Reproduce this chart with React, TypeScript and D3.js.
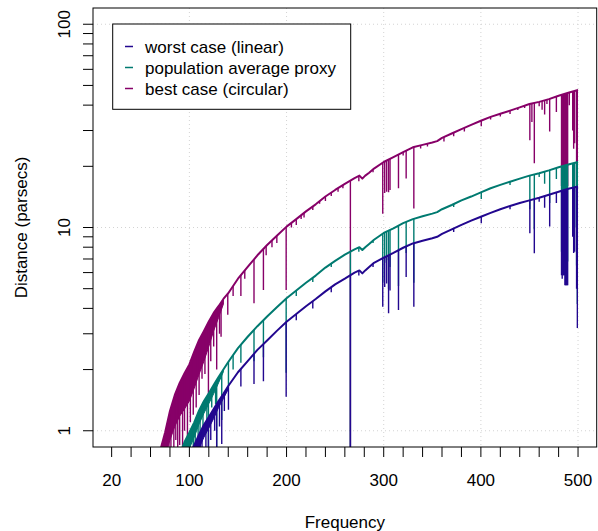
import React from "react";
import * as d3 from "d3";

// ---------- data ----------
const FREQ = [65, 70, 75, 80, 85, 90, 95, 100, 105, 110, 115, 120, 125, 130, 135, 140, 150, 160, 170, 180, 190, 200, 210, 220, 230, 240, 250, 260, 270, 275, 278, 281, 285, 290, 300, 310, 320, 330, 340, 350, 355, 360, 370, 380, 390, 400, 410, 420, 430, 440, 450, 460, 470, 480, 490, 500];

const BEST = [0.6, 0.8, 0.98, 1.25, 1.5, 1.72, 1.92, 2.12, 2.45, 2.8, 3.1, 3.45, 3.8, 4.1, 4.45, 4.75, 5.6, 6.4, 7.3, 8.2, 9.1, 10.1, 11.0, 12.0, 13.0, 14.2, 15.3, 16.4, 17.5, 18.0, 17.4, 18.0, 18.6, 19.5, 21.0, 22.2, 23.5, 24.8, 25.5, 26.2, 26.6, 27.6, 29.0, 30.5, 32.0, 33.5, 35.0, 36.3, 37.6, 39.0, 40.5, 41.5, 42.8, 44.5, 46.0, 47.5];

const POP = [null, null, null, null, null, 0.76, 0.88, 0.98, 1.1, 1.26, 1.4, 1.53, 1.68, 1.84, 2.0, 2.18, 2.55, 2.9, 3.27, 3.65, 4.05, 4.49, 4.9, 5.35, 5.8, 6.35, 6.85, 7.35, 7.8, 8.0, 7.75, 8.0, 8.3, 8.7, 9.4, 9.9, 10.5, 11.0, 11.35, 11.7, 11.9, 12.3, 12.9, 13.6, 14.2, 14.9, 15.6, 16.2, 16.8, 17.4, 18.0, 18.5, 19.1, 19.8, 20.4, 21.0];

const WORST = [null, null, null, null, null, null, null, 0.75, 0.85, 0.96, 1.07, 1.17, 1.28, 1.4, 1.52, 1.66, 1.94, 2.2, 2.5, 2.78, 3.1, 3.44, 3.75, 4.1, 4.45, 4.85, 5.25, 5.6, 6.0, 6.15, 5.95, 6.15, 6.4, 6.7, 7.1, 7.5, 7.95, 8.35, 8.6, 8.85, 9.0, 9.3, 9.8, 10.3, 10.8, 11.3, 11.8, 12.3, 12.75, 13.2, 13.6, 14.0, 14.5, 15.0, 15.5, 15.9];

// lower edge of the dense low-frequency band
const BEST_LOW = [0.5, 0.6, 0.75, 0.9, 1.05, 1.18, 1.28, 1.4, 1.62, 1.9, 2.2, 2.6, 3.1, 3.6, 4.2, null, null, null, null, null, null, null, null, null, null, null, null, null, null, null, null, null, null, null, null, null, null, null, null, null, null, null, null, null, null, null, null, null, null, null, null, null, null, null, null, null];
const POP_LOW = [null, null, null, null, null, 0.6, 0.72, 0.82, 0.93, 1.08, 1.22, 1.36, 1.52, 1.72, 1.95, null, null, null, null, null, null, null, null, null, null, null, null, null, null, null, null, null, null, null, null, null, null, null, null, null, null, null, null, null, null, null, null, null, null, null, null, null, null, null, null, null];
const WORST_LOW = [null, null, null, null, null, null, null, 0.6, 0.7, 0.82, 0.93, 1.03, 1.15, 1.3, 1.44, 1.6, null, null, null, null, null, null, null, null, null, null, null, null, null, null, null, null, null, null, null, null, null, null, null, null, null, null, null, null, null, null, null, null, null, null, null, null, null, null, null, null];

// spectral lines: [frequency, minimum value]
const BEST_SPIKES: [number, number][] = [
  [72, 0.5], [74, 0.5], [77, 0.6], [79, 0.5], [81, 0.8], [84, 0.7], [86, 0.9], [88, 0.6], [90, 0.85], [93, 0.8], [95, 1.0], [98, 0.9],
  [101, 1.1], [104, 1.2], [107, 1.3], [110, 1.5], [113, 1.8], [116, 1.9], [122, 2.2], [125, 2.6], [131, 3.0],
  [119.6, 1.5], [128.1, 2.0], [132.6, 2.9], [139.5, 3.72], [145, 4.6], [153, 4.6], [157, 5.6], [166.5, 4.24], [176.2, 4.93], [179, 7.3],
  [185, 8.0], [190, 8.4], [199.6, 4.93], [205, 10.0], [210, 10.3], [215, 11.0], [218, 11.2], [227, 12.2], [234, 13.1], [240, 13.5],
  [246, 14.3], [253, 15.0], [258, 15.6], [265.7, 0.5], [274.4, 16.9], [289, 18.7],
  [299, 11.7], [301, 14.8], [303, 15.0], [305, 14.9], [306.5, 15.3], [315.2, 15.6], [320, 22.6], [323.1, 17.4], [331, 12.4],
  [338, 24.5], [345, 25.0], [362, 26.5], [372, 28.1], [383, 29.7], [400.4, 31.5], [410, 34.0], [420, 35.2], [430, 36.2], [438, 37.8],
  [445, 38.7], [450.4, 26.9], [452.5, 33], [455, 20.7], [460, 39.5], [463, 38.0], [465.6, 36], [468, 40.5], [470.8, 29.7], [477.7, 37],
  [483, 16], [483.7, 16], [484.4, 16], [485.1, 16], [485.8, 16], [486.5, 16], [487.2, 16], [487.9, 16], [488.6, 16], [489.3, 16],
  [491, 40], [494.5, 30], [495.5, 24.4], [496.5, 26], [498.5, 15], [499.3, 8],
];
const POP_SPIKES: [number, number][] = [
  [96, 0.6], [99, 0.7], [101, 0.6], [104, 0.75], [106, 0.65], [109, 0.85], [111, 0.75], [114, 1.0], [118, 1.1], [123, 1.3], [127, 1.35],
  [119.6, 0.65], [128.1, 0.66], [133.3, 1.13], [140.2, 1.66], [145, 2.0], [153, 2.16], [166.5, 2.2], [176.2, 2.3], [199.6, 1.93],
  [210, 4.6], [227, 5.4], [246, 6.4], [265.7, 0.4], [274.4, 7.6], [289, 8.4],
  [299, 5.35], [301, 6.7], [303, 6.9], [305, 5.0], [306.5, 6.4], [315.2, 5.15], [323.1, 7.5], [331, 5.35], [372, 12.6], [400.4, 13.8],
  [430, 16.2], [450.4, 12.3], [455, 9.8], [460, 17.7], [465.6, 16.4], [470.8, 13.2], [477.7, 17.3],
  [483, 7.6], [483.7, 7.3], [484.4, 7.6], [485.1, 7.6], [485.8, 7.6], [486.5, 6.8], [487.2, 6.8], [487.9, 6.8], [488.6, 6.8], [489.3, 6.8],
  [494.5, 11.8], [495.5, 9.8], [496.5, 10], [498.5, 6.5], [499.3, 4.2],
];
const WORST_SPIKES: [number, number][] = [
  [108, 0.6], [111, 0.7], [113, 0.65], [117, 0.8], [122, 0.9], [126, 1.0], [131, 1.05], [136, 1.25],
  [119.6, 0.5], [128.1, 0.5], [133.3, 0.86], [140.2, 1.27], [153, 1.65], [166.5, 1.7], [176.2, 1.75], [199.6, 1.47],
  [210, 3.5], [227, 4.0], [246, 4.8], [265.7, 0.3], [274.4, 5.8], [289, 6.4],
  [299, 4.08], [301, 5.1], [303, 5.3], [305, 3.79], [306.5, 4.9], [315.2, 3.93], [323.1, 5.7], [331, 4.08], [372, 9.5], [400.4, 10.5],
  [430, 12.3], [450.4, 9.37], [455, 7.47], [460, 13.4], [465.6, 12.5], [470.8, 10.1], [477.7, 13.2],
  [483, 5.83], [483.7, 5.6], [484.4, 5.83], [485.1, 5.83], [485.8, 5.83], [486.5, 5.2], [487.2, 5.2], [487.9, 5.2], [488.6, 5.2], [489.3, 5.2],
  [494.5, 9], [495.5, 7.5], [496.5, 7.6], [498.5, 5], [499.3, 3.2],
];

const X_MINOR_TICKS = [20, 40, 60, 80, 100, 120, 140, 160, 180, 200, 220, 240, 260, 280, 300, 320, 340, 360, 380, 400, 420, 440, 460, 480, 500];
const X_LABELS = [20, 100, 200, 300, 400, 500];
const X_GRID = [100, 200, 300, 400, 500];
const Y_MINOR_TICKS = [1, 2, 3, 4, 5, 6, 7, 8, 9, 10, 20, 30, 40, 50, 60, 70, 80, 90, 100];
const Y_LABELS = [1, 10, 100];

const SERIES_NAMES = ["worst case (linear)", "population average proxy", "best case (circular)"];
const COLORS = ["#22078f", "#007a70", "#870068"];

// ---------- layout ----------
const W = 598;
const H = 531;
const L = 93, R = 596.7, T = 8, B = 447;
const FONT = "'Liberation Sans', Arial, Helvetica, sans-serif";

export default function App() {
  const x = d3.scaleLinear().domain([0.8, 519.2]).range([L, R]);
  const y = d3.scaleLog().domain([Math.pow(10, -0.0799), Math.pow(10, 2.0799)]).range([B, T]);

  const series = [
    { key: "best", vals: BEST, low: BEST_LOW, spikes: BEST_SPIKES, color: COLORS[2] },
    { key: "pop", vals: POP, low: POP_LOW, spikes: POP_SPIKES, color: COLORS[1] },
    { key: "worst", vals: WORST, low: WORST_LOW, spikes: WORST_SPIKES, color: COLORS[0] },
  ];

  const idx = FREQ.map((_, i) => i);

  return (
    <svg width={W} height={H} style={{ position: "absolute", left: 0, top: 0, background: "#fff" }} fontFamily={FONT}>
      <defs>
        <clipPath id="plotclip">
          <rect x={L} y={T} width={R - L} height={B - T} />
        </clipPath>
        {series.map((s) => {
          const under = d3
            .area<number>()
            .defined((i) => s.vals[i] != null)
            .x((i) => x(FREQ[i]))
            .y0(B + 60)
            .y1((i) => y(s.vals[i] as number));
          return (
            <clipPath id={`under-${s.key}`} key={s.key}>
              <path d={under(idx) || ""} />
            </clipPath>
          );
        })}
      </defs>

      {/* grid */}
      <g stroke="#d3d3d3" strokeWidth={1} strokeDasharray="1,3">
        {X_GRID.map((v) => (
          <line key={"gx" + v} x1={x(v)} x2={x(v)} y1={T} y2={B} />
        ))}
        {Y_LABELS.map((v) => (
          <line key={"gy" + v} x1={L} x2={R} y1={y(v)} y2={y(v)} />
        ))}
      </g>

      {/* series */}
      <g clipPath="url(#plotclip)">
        {series.map((s) => {
          const band = d3
            .area<number>()
            .defined((i) => s.low[i] != null && s.vals[i] != null)
            .x((i) => x(FREQ[i]))
            .y0((i) => y(s.low[i] as number))
            .y1((i) => y(s.vals[i] as number));
          const line = d3
            .line<number>()
            .defined((i) => s.vals[i] != null)
            .x((i) => x(FREQ[i]))
            .y((i) => y(s.vals[i] as number));
          return (
            <g key={s.key}>
              <g clipPath={`url(#under-${s.key})`}>
                <path d={band(idx) || ""} fill={s.color} stroke={s.color} strokeWidth={1} />
                {s.spikes.map(([f, v], k) => (
                  <line key={k} x1={x(f)} x2={x(f)} y1={y(v)} y2={T} stroke={s.color} strokeWidth={1.4} />
                ))}
              </g>
              <path d={line(idx) || ""} fill="none" stroke={s.color} strokeWidth={2} strokeLinejoin="round" />
            </g>
          );
        })}
      </g>

      {/* box */}
      <rect x={L} y={T} width={R - L} height={B - T} fill="none" stroke="#000" strokeWidth={1} />

      {/* x axis */}
      <g stroke="#000" strokeWidth={1}>
        {X_MINOR_TICKS.map((v) => (
          <line key={"xt" + v} x1={x(v)} x2={x(v)} y1={B} y2={B + 10} />
        ))}
      </g>
      <g fontSize={17} textAnchor="middle" fill="#000">
        {X_LABELS.map((v) => (
          <text key={"xl" + v} x={x(v)} y={486}>
            {v}
          </text>
        ))}
      </g>
      <text x={(L + R) / 2} y={528} fontSize={17} textAnchor="middle">
        Frequency
      </text>

      {/* y axis */}
      <g stroke="#000" strokeWidth={1}>
        {Y_MINOR_TICKS.map((v) => (
          <line key={"yt" + v} x1={L - 10} x2={L} y1={y(v)} y2={y(v)} />
        ))}
      </g>
      <g fontSize={17} textAnchor="middle" fill="#000">
        {Y_LABELS.map((v) => (
          <text key={"yl" + v} transform={`translate(69.5,${y(v)}) rotate(-90)`}>
            {v}
          </text>
        ))}
      </g>
      <text transform={`translate(27,${(T + B) / 2}) rotate(-90)`} fontSize={17} textAnchor="middle">
        Distance (parsecs)
      </text>

      {/* legend */}
      <g>
        <rect x={112.7} y={24} width={238} height={85.3} fill="#fff" stroke="#000" strokeWidth={1} />
        {SERIES_NAMES.map((name, i) => (
          <g key={name}>
            <line x1={125} x2={133} y1={46.5 + i * 21} y2={46.5 + i * 21} stroke={COLORS[i]} strokeWidth={1.5} />
            <text x={145} y={52.5 + i * 21} fontSize={17} fill="#000">
              {name}
            </text>
          </g>
        ))}
      </g>
    </svg>
  );
}
